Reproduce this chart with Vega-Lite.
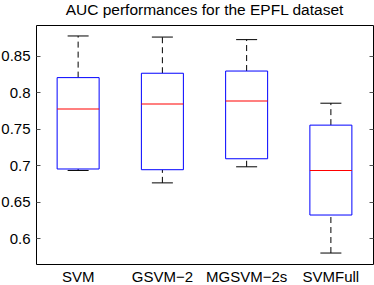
{
  "$schema": "https://vega.github.io/schema/vega-lite/v6.json",
  "width": 337,
  "height": 239,
  "autosize": {"type": "none"},
  "padding": {"left": 36, "top": 25, "right": 1, "bottom": 21},
  "background": "white",
  "title": {
    "text": "AUC performances for the EPFL dataset",
    "font": "Liberation Sans",
    "fontSize": 15.5,
    "fontWeight": "normal",
    "color": "black",
    "anchor": "middle",
    "offset": 7
  },
  "config": {
    "view": {"stroke": "black", "strokeWidth": 1},
    "axis": {"grid": false, "labelFont": "Liberation Sans", "labelFontSize": 15, "labelColor": "black"}
  },
  "data": {
    "values": [
      {"name": "SVM", "lo": 0.693, "q1": 0.695, "med": 0.777, "q3": 0.820, "hi": 0.877},
      {"name": "GSVM-2", "lo": 0.676, "q1": 0.694, "med": 0.784, "q3": 0.826, "hi": 0.8755},
      {"name": "MGSVM-2s", "lo": 0.698, "q1": 0.709, "med": 0.788, "q3": 0.829, "hi": 0.872},
      {"name": "SVMFull", "lo": 0.580, "q1": 0.632, "med": 0.693, "q3": 0.755, "hi": 0.785}
    ]
  },
  "encoding": {
    "x": {
      "field": "name",
      "type": "nominal",
      "sort": ["SVM", "GSVM-2", "MGSVM-2s", "SVMFull"],
      "scale": {"paddingInner": 0, "paddingOuter": 0},
      "axis": {"title": null, "ticks": false, "domain": false, "labelAngle": 0, "labelPadding": 5, "labelExpr": "replace(datum.label, '-', '\u2212')"}
    }
  },
  "resolve": {"axis": {"y": "independent"}},
  "layer": [
    {
      "mark": {"type": "rule", "color": "black", "strokeDash": [6, 4], "strokeWidth": 1},
      "encoding": {
        "y": {"field": "q3", "type": "quantitative", "scale": {"domain": [0.565, 0.892], "nice": false, "zero": false},
          "axis": {"orient": "left", "title": null, "values": [0.6, 0.65, 0.7, 0.75, 0.8, 0.85], "format": ".2~f", "domain": false, "tickSize": -4, "tickColor": "#555555", "labelPadding": 10}},
        "y2": {"field": "hi"}
      }
    },
    {
      "mark": {"type": "rule", "color": "black", "strokeDash": [6, 4], "strokeWidth": 1},
      "encoding": {
        "y": {"field": "lo", "type": "quantitative",
          "axis": {"orient": "right", "title": null, "values": [0.6, 0.65, 0.7, 0.75, 0.8, 0.85], "labels": false, "domain": false, "tickSize": -4, "tickColor": "#555555"}},
        "y2": {"field": "q1"}
      }
    },
    {
      "mark": {"type": "tick", "color": "black", "size": 21, "thickness": 1, "opacity": 1},
      "encoding": {"y": {"field": "hi", "type": "quantitative", "axis": null}}
    },
    {
      "mark": {"type": "tick", "color": "black", "size": 21, "thickness": 1, "opacity": 1},
      "encoding": {"y": {"field": "lo", "type": "quantitative", "axis": null}}
    },
    {
      "mark": {"type": "bar", "fill": "white", "stroke": "#0000ff", "strokeWidth": 1, "size": 42},
      "encoding": {"y": {"field": "q1", "type": "quantitative", "axis": null}, "y2": {"field": "q3"}}
    },
    {
      "mark": {"type": "tick", "color": "#ff0000", "size": 42, "thickness": 1, "opacity": 1},
      "encoding": {"y": {"field": "med", "type": "quantitative", "axis": null}}
    }
  ]
}
